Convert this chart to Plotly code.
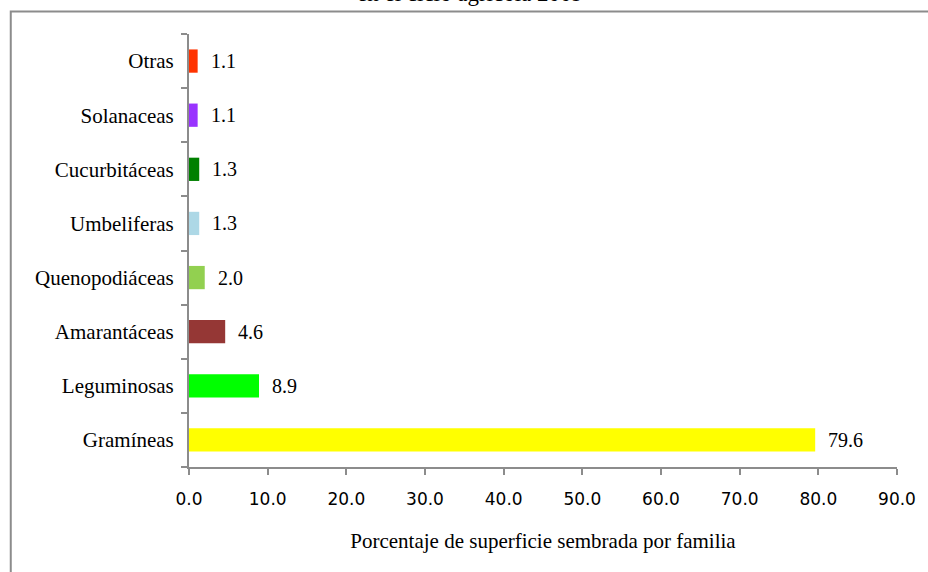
import plotly.graph_objects as go

familias = ["Gramíneas", "Leguminosas", "Amarantáceas", "Quenopodiáceas",
            "Umbeliferas", "Cucurbitáceas", "Solanaceas", "Otras"]
porcentajes = [79.6, 8.9, 4.6, 2.0, 1.3, 1.3, 1.1, 1.1]
colores = ["#FFFF00", "#00FF00", "#953735", "#92D050",
           "#ADD8E6", "#008000", "#9933FF", "#FF3300"]
ticks_x = [0, 10, 20, 30, 40, 50, 60, 70, 80, 90]

serif = "Liberation Serif, Times New Roman, serif"
sans = "DejaVu Sans, sans-serif"

fig = go.Figure(go.Bar(
    x=porcentajes, y=familias, orientation="h",
    marker=dict(color=colores, line=dict(width=0)),
    width=0.43, hoverinfo="x+y",
))

# value labels to the right of each bar
for fam, val in zip(familias, porcentajes):
    fig.add_annotation(x=val, y=fam, text=f"{val:.1f}", showarrow=False,
                       xanchor="left", xshift=11,
                       font=dict(family=serif, size=20, color="black"))

# plot-area geometry in pixels
L, R, T, B = 189, 902, 34, 467
pw, ph = R - L, B - T

# chart-area frame
fig.add_shape(type="rect", xref="paper", yref="paper",
              x0=(9.5 - L) / pw, x1=(940 - L) / pw,
              y0=(B - 590) / ph, y1=(B - 11.5) / ph,
              line=dict(color="#8C8C8C", width=2), layer="below")

# chart title, sitting at the very top edge of the page
fig.add_annotation(text="en el ciclo agrícola 2009", showarrow=False,
                   xref="paper", yref="paper",
                   x=(472 - L) / pw, xanchor="center",
                   y=(B - 8) / ph, yanchor="bottom",
                   font=dict(family=serif, size=23, color="black"))

fig.update_layout(
    width=928, height=572,
    margin=dict(l=L, r=928 - R, t=T, b=572 - B),
    paper_bgcolor="white", plot_bgcolor="white",
    showlegend=False,
    xaxis=dict(range=[0, 90], tickvals=ticks_x,
               ticktext=[f"{v:.1f}" for v in ticks_x],
               showgrid=False, zeroline=False, showline=True,
               linecolor="#8C8C8C", linewidth=2, ticks="outside",
               ticklen=6, tickwidth=2, tickcolor="#8C8C8C",
               ticklabelstandoff=10,
               tickfont=dict(family=sans, size=17, color="black"),
               title=dict(text="Porcentaje de superficie sembrada por familia",
                          font=dict(family=serif, size=21, color="black"),
                          standoff=25)),
    yaxis=dict(categoryorder="array", categoryarray=familias,
               showgrid=False, zeroline=False, showline=True,
               linecolor="#8C8C8C", linewidth=2, ticks="outside",
               tickson="boundaries", ticklen=6, tickwidth=2,
               tickcolor="#8C8C8C", ticklabelstandoff=9,
               tickfont=dict(family=serif, size=21, color="black")),
)

fig.write_html("out.html")
